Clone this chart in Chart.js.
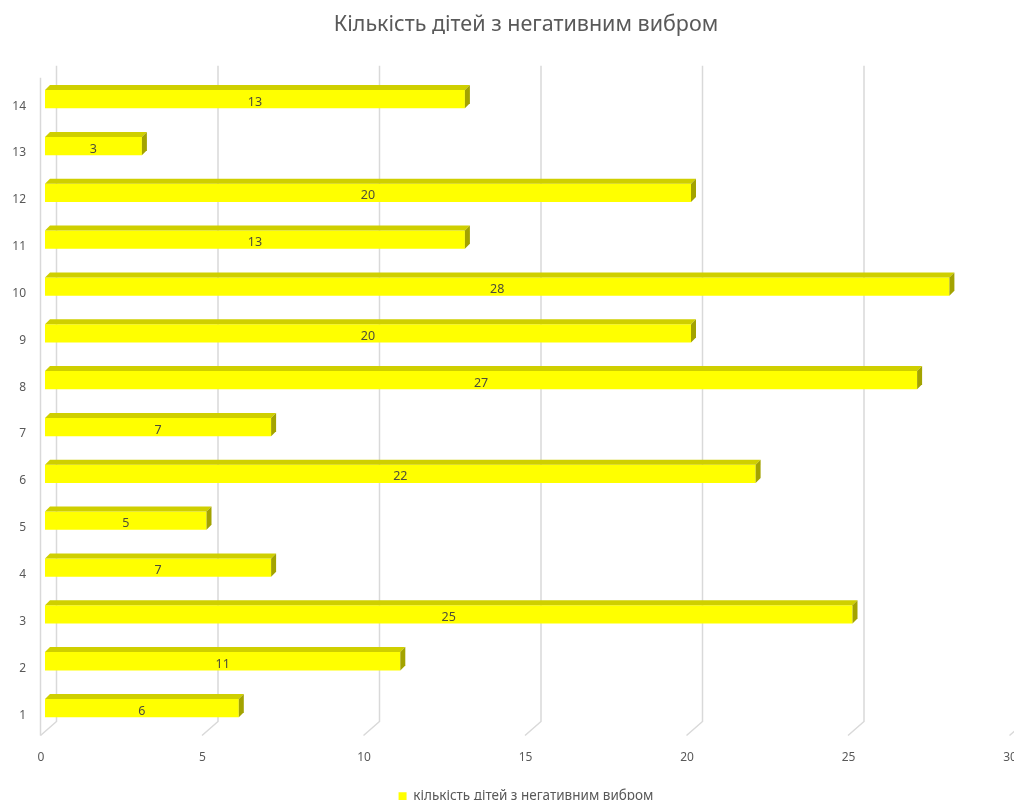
<!DOCTYPE html>
<html>
<head>
<meta charset="utf-8">
<script src="https://cdn.jsdelivr.net/npm/chart.js@4/dist/chart.umd.min.js"></script>
<style>
  html, body { margin: 0; padding: 0; background: #fff; overflow: hidden; }
  #wrap { width: 1052px; height: 813px; position: relative; }
</style>
</head>
<body>
<div id="wrap"><canvas id="c"></canvas></div>
<script>
// Class numbers (categories) and the count of children with a negative choice
const categories = ['1', '2', '3', '4', '5', '6', '7', '8', '9', '10', '11', '12', '13', '14'];
const negativeCounts = [6, 11, 25, 7, 5, 22, 7, 27, 20, 28, 13, 20, 3, 13];
const xTickValues = [0, 5, 10, 15, 20, 25, 30];

const seriesLabel = 'кількість дітей з негативним вибром';
const titleText = 'Кількість дітей з негативним вибром';

const TEXT = '#595959';
const GRID = '#d9d9d9';
const FONT = "'Noto Sans', 'Open Sans', sans-serif";

// depth of the bars' extruded faces
const BAR_DX = 5, BAR_DY = 5;
// depth of the back wall relative to the front floor edge
const WALL_BACK = 11.5, WALL_FRONT = -4.5;

// Back wall grid lines with floor diagonals, behind the bars
const wallPlugin = {
  id: 'wall3d',
  beforeDatasetsDraw(chart) {
    const { ctx, chartArea, scales } = chart;
    const xs = scales.x;
    const backTop = chartArea.top - 10;
    const backBottom = chartArea.bottom - 10;
    const frontBottom = chartArea.bottom + 4;
    ctx.save();
    ctx.strokeStyle = GRID;
    ctx.lineWidth = 1.5;
    xTickValues.forEach(v => {
      const px = xs.getPixelForValue(v);
      ctx.beginPath();
      ctx.moveTo(px + WALL_BACK, backTop);
      ctx.lineTo(px + WALL_BACK, backBottom);
      ctx.lineTo(px + WALL_FRONT, frontBottom);
      ctx.stroke();
    });
    // front edge of the side wall
    const p0 = xs.getPixelForValue(0) + WALL_FRONT;
    ctx.beginPath();
    ctx.moveTo(p0, chartArea.top + 2);
    ctx.lineTo(p0, frontBottom);
    ctx.stroke();
    ctx.restore();
  }
};

// Extruded top and right faces of each bar, plus the value labels
const barFacesPlugin = {
  id: 'barFaces',
  afterDatasetsDraw(chart) {
    const { ctx } = chart;
    const meta = chart.getDatasetMeta(0);
    const data = chart.data.datasets[0].data;
    ctx.save();
    meta.data.forEach((bar, i) => {
      const { x, y, base, height } = bar.getProps(['x', 'y', 'base', 'height'], true);
      const top = y - height / 2;
      const bottom = y + height / 2;
      // top face
      ctx.fillStyle = '#cfcf00';
      ctx.beginPath();
      ctx.moveTo(base, top);
      ctx.lineTo(base + BAR_DX, top - BAR_DY);
      ctx.lineTo(x + BAR_DX, top - BAR_DY);
      ctx.lineTo(x, top);
      ctx.closePath();
      ctx.fill();
      // right face
      ctx.fillStyle = '#a3a300';
      ctx.beginPath();
      ctx.moveTo(x, top);
      ctx.lineTo(x + BAR_DX, top - BAR_DY);
      ctx.lineTo(x + BAR_DX, bottom - BAR_DY);
      ctx.lineTo(x, bottom);
      ctx.closePath();
      ctx.fill();
      // value label centred on the front face
      ctx.fillStyle = '#4d4d3a';
      ctx.font = '12.5px ' + FONT;
      ctx.textAlign = 'center';
      ctx.textBaseline = 'middle';
      ctx.fillText(String(data[i]), (base + x) / 2, y + 3);
    });
    ctx.restore();
  }
};

new Chart(document.getElementById('c'), {
  type: 'bar',
  data: {
    labels: categories,
    datasets: [{
      label: seriesLabel,
      data: negativeCounts,
      backgroundColor: '#ffff00',
      borderWidth: 0,
      barPercentage: 0.39,
      categoryPercentage: 1.0,
      yAxisID: 'y'
    }]
  },
  options: {
    indexAxis: 'y',
    responsive: true,
    maintainAspectRatio: false,
    animation: false,
    layout: { padding: 0 },
    scales: {
      x: {
        type: 'linear',
        min: 0,
        max: 30,
        afterBuildTicks(scale) { scale.ticks = xTickValues.map(v => ({ value: v })); },
        afterFit(scale) { scale.height = 48; },
        grid: { display: false, drawTicks: false },
        border: { display: false },
        ticks: { color: TEXT, font: { family: FONT, size: 12 }, padding: 19, labelOffset: -4 }
      },
      y: {
        reverse: true,
        afterFit(scale) { scale.width = 45; },
        grid: { display: false, drawTicks: false },
        border: { display: false },
        ticks: { color: TEXT, font: { family: FONT, size: 12 }, padding: 19, labelOffset: 7 }
      },
      // empty right-hand gutter beyond the plot's right edge
      yRight: {
        type: 'category',
        position: 'right',
        afterFit(scale) { scale.width = 38; },
        grid: { display: false, drawTicks: false },
        border: { display: false },
        ticks: { display: false }
      }
    },
    plugins: {
      title: {
        display: true,
        text: titleText,
        color: TEXT,
        font: { family: FONT, size: 21.5, weight: 'normal' },
        padding: { top: 12, bottom: 38 }
      },
      legend: {
        position: 'bottom',
        labels: {
          color: TEXT,
          font: { family: FONT, size: 13.5 },
          boxWidth: 8,
          boxHeight: 8,
          padding: 10
        }
      },
      tooltip: { enabled: false }
    }
  },
  plugins: [wallPlugin, barFacesPlugin]
});
</script>
</body>
</html>
